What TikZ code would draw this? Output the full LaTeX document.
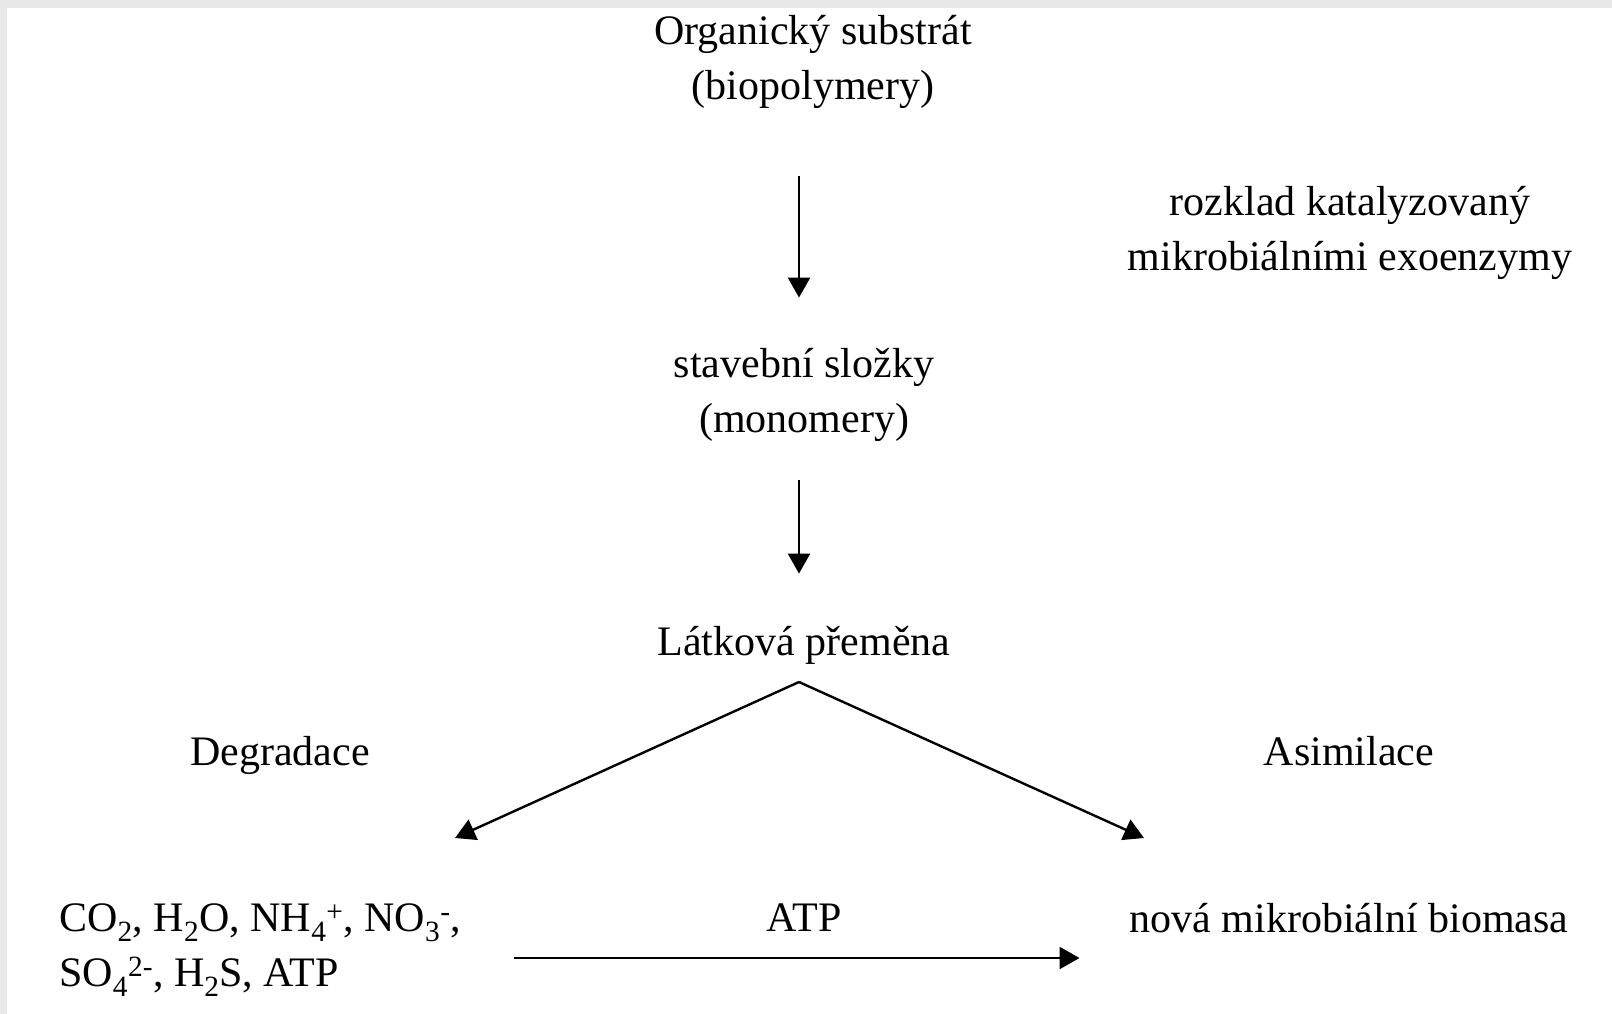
\documentclass[tikz,border=0pt]{standalone}
\usepackage{fontspec}
\setmainfont{Liberation Serif}
\usepackage{xcolor}
\usetikzlibrary{arrows.meta,positioning,calc}

\definecolor{margingray}{HTML}{E8E8E8}

\begin{document}
\begin{tikzpicture}[x=1pt, y=-1pt, >={Triangle[width=22pt,length=20pt]},
  line width=2.4pt,
  t/.style={align=center, inner sep=0pt, anchor=base,
            font=\fontsize{42}{55}\selectfont},
  tl/.style={t, align=left, anchor=base west}]
  \fill[margingray] (0,0) rectangle (1612,1014);
  \fill[white] (7,8) rectangle (1612,1014);
  \useasboundingbox (0,0) rectangle (1612,1014);

  % multi-line nodes sit on their last line
  \node[t] (sub) at (813,100) {Organický substrát\\(biopolymery)};
  \node[t] (enz) at (1350,270) {rozklad katalyzovaný\\mikrobiálními exoenzymy};
  \node[t] (mono) at (804,432) {stavební složky\\(monomery)};
  \node[t] (lat) at (804,655) {Látková přeměna};
  \node[t] (deg) at (280,765) {Degradace};
  \node[t] (asi) at (1349,765) {Asimilace};
  \node[tl] (prod) at (58,986) {CO\textsubscript{2}, H\textsubscript{2}O,
    NH\textsubscript{4}\textsuperscript{+}, NO\textsubscript{3}\textsuperscript{-},\\
    SO\textsubscript{4}\textsuperscript{2-}, H\textsubscript{2}S, ATP};
  \node[t] (atp) at (804,931) {ATP};
  \node[t] (bio) at (1349,932) {nová mikrobiální biomasa};

  \coordinate (mid) at (799,0);
  \coordinate (apex) at (799,682);
  \coordinate (ltip) at (455,838);
  \coordinate (rtip) at (1144,838);
  \coordinate (hrow) at (0,958);

  \draw[->, shorten <=66pt, shorten >=49pt] (sub.south -| mid) -- (mono.north -| mid);
  \draw[->, shorten <=38pt, shorten >=51pt] (mono.south -| mid) -- (lat.north -| mid);
  \draw[->] (apex) -- (ltip);
  \draw[->] (apex) -- (rtip);
  \draw[->, shorten <=52pt, shorten >=49pt] (prod.east |- hrow) -- (bio.west |- hrow);
\end{tikzpicture}
\end{document}
